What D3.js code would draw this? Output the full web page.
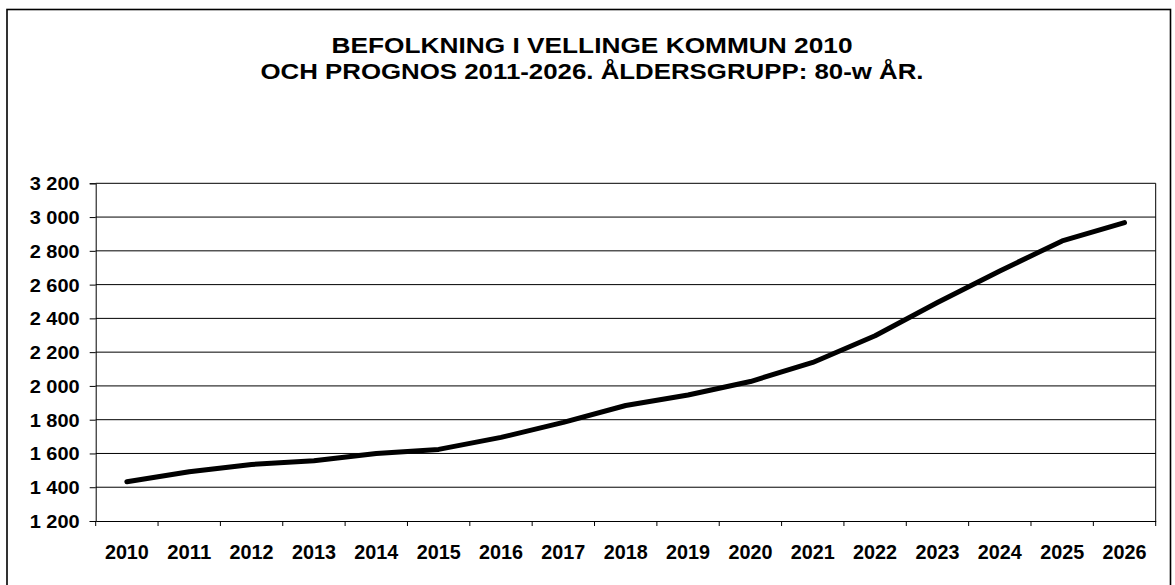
<!DOCTYPE html>
<html>
<head>
<meta charset="utf-8">
<script src="https://cdn.jsdelivr.net/npm/d3@7"></script>
<style>
  html, body { margin: 0; padding: 0; background: #fff; }
  svg { display: block; }
  text { font-family: "Liberation Sans", Arial, sans-serif; font-weight: bold; fill: #000; }
</style>
</head>
<body>
<svg id="chart" width="1175" height="585"></svg>
<script>
const titleLines = ["BEFOLKNING I VELLINGE KOMMUN 2010", "OCH PROGNOS 2011-2026. ÅLDERSGRUPP: 80-w ÅR."];
const years = ["2010","2011","2012","2013","2014","2015","2016","2017","2018","2019","2020","2021","2022","2023","2024","2025","2026"];
const population = [1432, 1492, 1535, 1557, 1600, 1624, 1695, 1784, 1884, 1946, 2026, 2139, 2297, 2494, 2681, 2859, 2967];
const yTicks = [1200, 1400, 1600, 1800, 2000, 2200, 2400, 2600, 2800, 3000, 3200];

const svg = d3.select("#chart");
const W = 1175, H = 585;
const plot = { left: 95.7, right: 1155.7, top: 183.3, bottom: 521 };

svg.append("rect").attr("x", 0).attr("y", 0).attr("width", W).attr("height", H).attr("fill", "#fff");
// outer frame
svg.append("rect").attr("x", 7).attr("y", 9.5).attr("width", 1163.5).attr("height", 600)
  .attr("fill", "none").attr("stroke", "#000").attr("stroke-width", 1.6);

// title
const titleW = [521, 663];
const titleY = [52.5, 79.3];
titleLines.forEach((t, i) => {
  svg.append("text").attr("x", 592).attr("y", titleY[i]).attr("text-anchor", "middle")
    .attr("font-size", 21.5).attr("textLength", titleW[i]).attr("lengthAdjust", "spacingAndGlyphs")
    .text(t);
});

const x = d3.scaleBand().domain(years).range([plot.left, plot.right]).padding(0);
const y = d3.scaleLinear().domain([1200, 3200]).range([plot.bottom, plot.top]);

// gridlines
svg.append("g").selectAll("line").data(yTicks.filter(d => d > 1200)).join("line")
  .attr("x1", plot.left).attr("x2", plot.right)
  .attr("y1", d => y(d)).attr("y2", d => y(d))
  .attr("stroke", "#000").attr("stroke-width", 1);

// right border of plot area
svg.append("line").attr("x1", plot.right).attr("x2", plot.right)
  .attr("y1", plot.top).attr("y2", plot.bottom).attr("stroke", "#000").attr("stroke-width", 1);

// y axis
const fmt = d => d3.format(",")(d).replace(",", " ");
const yAxis = svg.append("g").attr("transform", `translate(${plot.left},0)`)
  .call(d3.axisLeft(y).tickValues(yTicks).tickSize(6).tickPadding(10).tickFormat(fmt));
yAxis.select(".domain").attr("stroke", "#000");
yAxis.selectAll(".tick line").attr("stroke", "#000");
yAxis.selectAll(".tick text").attr("font-size", 18).attr("fill", "#000")
  .attr("font-family", "Liberation Sans, Arial, sans-serif").attr("font-weight", "bold")
  .attr("dy", "0.36em")
  .attr("textLength", 50).attr("lengthAdjust", "spacingAndGlyphs");

// x axis
const xAxis = svg.append("g").attr("transform", `translate(0,${plot.bottom})`)
  .call(d3.axisBottom(x).tickSize(0).tickPadding(0));
xAxis.select(".domain").attr("stroke", "#000");
xAxis.selectAll(".tick text").attr("font-size", 20.5).attr("fill", "#000")
  .attr("font-family", "Liberation Sans, Arial, sans-serif").attr("font-weight", "bold")
  .attr("y", 37.5).attr("dy", 0)
  .attr("textLength", 44).attr("lengthAdjust", "spacingAndGlyphs");
// tick marks at band boundaries
const bounds = years.map(d => x(d)).concat([x(years[years.length - 1]) + x.bandwidth()]);
svg.append("g").selectAll("line").data(bounds).join("line")
  .attr("x1", d => d).attr("x2", d => d)
  .attr("y1", plot.bottom).attr("y2", plot.bottom + 5)
  .attr("stroke", "#000").attr("stroke-width", 1);

// data line
const line = d3.line()
  .x((d, i) => x(years[i]) + x.bandwidth() / 2)
  .y(d => y(d));
svg.append("path").datum(population).attr("d", line)
  .attr("fill", "none").attr("stroke", "#000").attr("stroke-width", 5)
  .attr("stroke-linejoin", "round").attr("stroke-linecap", "round");
</script>
</body>
</html>
